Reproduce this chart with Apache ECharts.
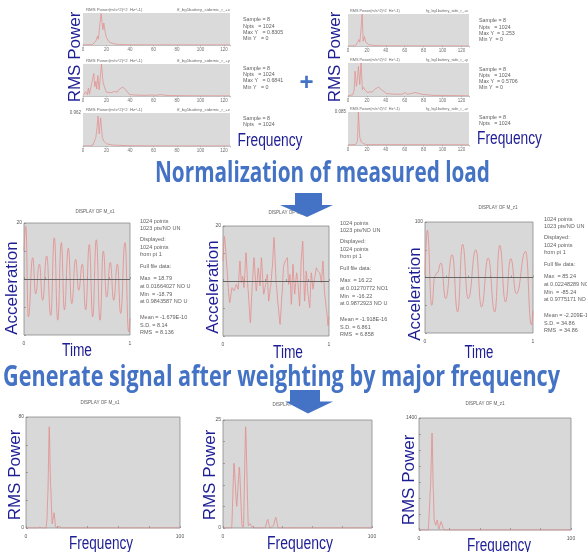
<!DOCTYPE html>
<html><head><meta charset="utf-8">
<script src="https://cdn.jsdelivr.net/npm/echarts@6/dist/echarts.min.js"></script>
<style>html,body{margin:0;padding:0;background:#fff}#c{width:587px;height:552px}</style>
</head><body><div id="c"></div>
<script>
// ---------- DATA ----------
// Top-left RMS power spectra [Hz, value]
const tlX = [[0,0.005],[8,0.01],[10.9,0.1],[12.3,0.23],[13.1,0.15],[14.3,0.53],[15.4,0.81],[16,0.8305],[16.9,0.4],[17.7,0.57],[18.9,0.32],[20,0.19],[21.7,0.1],[23.7,0.06],[26.6,0.03],[31,0.012],[40,0.006],[60,0.004],[125,0.002]];
const tlY = [[0,0.01],[1,0.05],[2.3,0.09],[3.7,0.03],[4.6,0.17],[5.5,0.04],[7,0.08],[9.2,0.48],[10,0.2],[10.9,0.31],[11.6,0.15],[12.6,0.44],[13.7,0.13],[15.7,0.6841],[17,0.3],[18.5,0.17],[20,0.08],[21.7,0.1],[24,0.07],[27,0.1],[29,0.08],[31,0.15],[34,0.19],[36,0.14],[38,0.08],[39.5,0.03],[45,0.02],[52,0.015],[58,0.02],[62,0.015],[66,0.03],[70,0.015],[75,0.01],[90,0.005],[125,0.003]];
const tlZ = [[0,0.003],[6,0.005],[8.5,0.03],[9.4,0.06],[10.9,0.25],[11.8,0.5],[12.8,0.87],[13.7,0.35],[15,0.82],[16.4,0.25],[17.5,0.15],[18.7,0.11],[20,0.06],[22,0.05],[25,0.03],[30,0.02],[40,0.008],[60,0.004],[125,0.002]];
// Top-right RMS power spectra
const trX = [[0,0.003],[8,0.01],[9.7,0.12],[11.4,0.25],[12.5,0.15],[13.9,0.69],[15,1.253],[16,0.19],[17.4,0.37],[18.8,0.15],[20,0.08],[22,0.05],[27,0.02],[35,0.01],[60,0.005],[128,0.002]];
const trY = [[0,0.005],[5,0.02],[6.5,0.1],[7.5,0.43],[8.9,0.17],[10,0.3],[11,0.51],[12.4,0.2],[13.8,0.5706],[15.2,0.11],[16.5,0.15],[17.7,0.11],[20.5,0.06],[23,0.07],[25.7,0.07],[29.2,0.13],[32.7,0.15],[34,0.12],[36,0.1],[41,0.04],[50,0.03],[57,0.03],[60.5,0.06],[63,0.03],[66,0.04],[71,0.06],[78,0.03],[90,0.01],[128,0.004]];
const trZ = [[0,0.0005],[8,0.001],[10,0.01],[11,0.085],[12.4,0.02],[14,0.008],[16.7,0.003],[20,0.001],[128,0.0005]];
// Normalized acceleration time histories [t, value]
const accX = [[0,10],[0.017,18.79],[0.041,-13.5],[0.082,7.6],[0.110,-5.3],[0.145,5.3],[0.176,-7.6],[0.214,8.2],[0.252,-13],[0.286,14.7],[0.318,-14.7],[0.352,13],[0.381,-11],[0.418,11],[0.450,-8.8],[0.487,7],[0.516,-4],[0.550,5.3],[0.582,-11],[0.616,12.3],[0.648,-13.5],[0.682,14],[0.717,-14.7],[0.748,10],[0.780,-6.5],[0.814,5.9],[0.846,-7.6],[0.881,5.3],[0.912,-12.3],[0.953,13],[0.987,-18.79],[1,-14]];
const accY = [[0,7.3],[0.013,16.22],[0.063,-7.9],[0.085,-2.4],[0.104,-3.6],[0.126,-1.2],[0.142,-3.0],[0.160,7.3],[0.173,-0.6],[0.186,1.8],[0.198,-2.4],[0.217,10.3],[0.236,-3.0],[0.258,-15.2],[0.277,-1.2],[0.292,8.5],[0.314,-3.6],[0.333,4.8],[0.349,-1.8],[0.362,8.5],[0.384,-4.8],[0.403,-1.2],[0.418,2.4],[0.431,-7.3],[0.450,-1.8],[0.465,4.8],[0.481,15.8],[0.503,-1.2],[0.519,-8.5],[0.538,-15.8],[0.557,-4.8],[0.572,5.5],[0.588,7.3],[0.607,8.5],[0.619,-1.2],[0.632,2.4],[0.645,-8.5],[0.660,6.1],[0.676,-4.8],[0.695,3.0],[0.708,-1.2],[0.723,-9.1],[0.739,8.5],[0.752,14.5],[0.770,-7.3],[0.786,3.6],[0.802,-4.8],[0.818,-9.7],[0.833,3.0],[0.849,-3.0],[0.865,1.2],[0.881,4.8],[0.896,3.6],[0.912,3.0],[0.928,-0.6],[0.943,7.3],[0.959,-4.8],[0.978,-10.9],[0.991,-16.22],[1,-13]];
const accZ = [[0,5],[0.022,85.24],[0.062,-50],[0.092,3],[0.114,8.8],[0.148,26],[0.191,-38],[0.252,41],[0.302,-62],[0.348,60],[0.400,-38],[0.471,50],[0.523,-53],[0.585,35],[0.646,-62],[0.692,58],[0.745,-44],[0.794,34],[0.846,-29],[0.932,47],[0.985,-85.24],[1,-60]];
// Spectra of signals generated after weighting [Hz, value]
const wX = [[0,0],[8,0],[9,0.8],[10,0],[13,0],[13.6,6],[14.2,25],[15.1,73],[16,30],[17,3],[18.2,11],[19.2,1],[20,0],[21,0.8],[22,1],[23,0],[100,0]];
const wY = [[0,0],[5.8,0],[7.4,15],[9.2,5],[11,14.1],[12.8,0.4],[13.7,0.2],[15.2,23.4],[17,0.5],[18,1],[19.5,0.3],[21,0],[28.2,0],[30,2],[31.5,0],[33.8,0.5],[35.4,2.5],[37.1,0],[100,0]];
const wZ = [[0,0],[6.1,0],[7.5,500],[8.6,1212],[9.4,500],[10,125],[11,60],[12,125],[13,10],[14.5,105],[16,20],[17,0],[100,0]];
// Text
const titleText = 'Normalization of measured load';
const subtitleText = 'Generate signal after weighting by major frequency';
const specHeadL = 'RMS Power(m/s^2)^2  Hz^-1)';
const specHeadTL = ['ff_bg1battery_sidemic_r_+x','ff_bg1battery_sidemic_r_+y','ff_bg1battery_sidemic_r_+z'];
const specHeadTR = ['fg_bg1battery_side_r_+x','fg_bg1battery_side_r_+y','fg_bg1battery_side_r_+z'];
const infoTL = [['Sample = 8','Npts   = 1024','Max Y   = 0.8305','Min Y   = 0'],['Sample = 8','Npts   = 1024','Max Y   = 0.6841','Min Y   = 0'],['Sample = 8','Npts   = 1024']];
const infoTR = [['Sample = 8','Npts   = 1024','Max Y  = 1.253','Min Y  = 0'],['Sample = 8','Npts   = 1024','Max Y  = 0.5706','Min Y  = 0'],['Sample = 8','Npts   = 1024']];
const infoMX = ['1024 points','1023 pts/NO UN','Displayed:','1024 points','from pt 1','Full file data:','Max  = 18.79','at 0.01664027 NO U','Min  = -18.79','at 0.9843587 NO U','Mean = -1.679E-10','S.D. = 8.14','RMS  = 8.136'];
const infoMY = ['1024 points','1023 pts/NO UN','Displayed:','1024 points','from pt 1','Full file data:','Max  = 16.22','at 0.01270772 NO1','Min  = -16.22','at 0.9872923 NO U','Mean = -1.918E-16','S.D. = 6.861','RMS  = 6.858'];
const infoMZ = ['1024 points','1023 pts/NO UN','Displayed:','1024 points','from pt 1','Full file data:','Max  = 85.24','at 0.02248289 NO U','Min  = -85.24','at 0.9775171 NO U','Mean = -2.209E-15','S.D. = 34.86','RMS  = 34.86'];
const dispTitles = ['DISPLAY OF M_x1','DISPLAY OF M_y1','DISPLAY OF M_z1'];

// ---------- LAYOUT ----------
const LF = '"Liberation Sans", Arial, sans-serif';
const BLUE = '#4472c4', NAVY = '#1d1d94', RED = '#e48a8a';
const plots = [
 {g:[83,13,147,32], data:tlX, xmax:125, ymax:0.8305, kind:'top'},
 {g:[83,64,147,32], data:tlY, xmax:125, ymax:0.6841, kind:'top'},
 {g:[83,113,147,33], data:tlZ, xmax:125, ymax:0.962, kind:'top', ylab:true},
 {g:[348,14,121,32], data:trX, xmax:128, ymax:1.253, kind:'top'},
 {g:[348,63,121,33], data:trY, xmax:128, ymax:0.5706, kind:'top'},
 {g:[348,112,121,33], data:trZ, xmax:128, ymax:0.085, kind:'top', ylab:true},
 {g:[24,223,106,112], data:accX, ymin:-20, ymax:20, yint:10, kind:'time', smooth:0.5},
 {g:[223,226,106,110], data:accY, ymin:-20, ymax:20, yint:10, kind:'time', smooth:0.15},
 {g:[425,222,108,111], data:accZ, ymin:-100, ymax:100, yint:50, kind:'time', smooth:0.5},
 {g:[26,417,154,111], data:wX, ymin:0, ymax:80, yint:20, kind:'spec', zero:true},
 {g:[223,420,149,108], data:wY, ymin:0, ymax:25, yint:5, kind:'spec', zero:true},
 {g:[419,418,152,112], data:wZ, ymin:0, ymax:1400, yint:200, kind:'spec'},
];

const grid = [], xAxis = [], yAxis = [], series = [];
plots.forEach((p, i) => {
  const isTop = p.kind === 'top';
  grid.push({left:p.g[0], top:p.g[1], width:p.g[2], height:p.g[3], show:true,
    backgroundColor: isTop ? '#dadada' : '#d8d8d8',
    borderColor: isTop ? '#dadada' : '#8c8c8c', borderWidth: isTop ? 0 : 0.8,
    containLabel:false, outerBoundsMode:'none'});
  if (isTop) {
    xAxis.push({gridIndex:i, type:'value', min:0, max:p.xmax, interval:20,
      axisLine:{show:true, lineStyle:{color:'#9a9a9a', width:0.6}},
      axisTick:{show:true, length:1.5, lineStyle:{color:'#9a9a9a', width:0.5}},
      axisLabel:{fontSize:4.5, color:'#707070', margin:2.5, fontFamily:'Liberation Sans',
        formatter:v => (v % 20 === 0 ? String(v) : '')},
      splitLine:{show:false}});
    yAxis.push({gridIndex:i, type:'value', min:0, max:p.ymax, interval:p.ymax,
      axisLine:{show:false}, axisTick:{show:false}, splitLine:{show:false},
      axisLabel:{show:!!p.ylab, fontSize:4.5, color:'#606060', margin:2, fontFamily:'Liberation Sans',
        formatter:v => (v === p.ymax ? String(p.ymax) : '')}});
  } else {
    const isTime = p.kind === 'time';
    const xmax = isTime ? 1 : 100;
    xAxis.push({gridIndex:i, type:'value', min:0, max:xmax, interval: isTime ? 0.2 : 20,
      axisLine:{show:false},
      axisTick:{show:true, inside:true, length:2, lineStyle:{color:'#777', width:0.6}},
      axisLabel:{fontSize:5, color:'#555', margin:6, fontFamily:'Liberation Sans',
        formatter:v => (v === 0 ? '0' : (v === xmax ? String(xmax) : ''))},
      splitLine:{show:false}});
    yAxis.push({gridIndex:i, type:'value', min:p.ymin, max:p.ymax, interval:p.yint,
      axisLine:{show:false},
      axisTick:{show:true, inside:true, length:2, lineStyle:{color:'#777', width:0.6}},
      axisLabel:{fontSize:5, color:'#555', margin:2, fontFamily:'Liberation Sans',
        formatter:v => (v === p.ymax ? String(p.ymax) : (p.zero && v === 0 ? '0' : ''))},
      splitLine:{show:false}});
  }
  const s = {type:'line', xAxisIndex:i, yAxisIndex:i, data:p.data, symbol:'none',
    smooth: p.smooth || (p.kind === 'spec' ? 0.15 : false), smoothMonotone:'x', silent:true,
    lineStyle:{color:RED, width: isTop ? 0.7 : 0.8}};
  if (p.kind === 'time') {
    s.markLine = {silent:true, symbol:'none', label:{show:false},
      lineStyle:{color:'#5a5a5a', width:0.9, type:'solid'}, data:[{yAxis:0}]};
  }
  series.push(s);
});

// ---------- TEXT / SHAPES ----------
const mctx = document.createElement('canvas').getContext('2d');
function fitScale(s, font, w){ mctx.font = font; return w / mctx.measureText(s).width; }
const graphic = [];
function txt(s, x, y, o) {
  o = o || {};
  graphic.push({type:'text', x:x, y:y, rotation:o.rot || 0, scaleX:o.sx || 1, z:100, silent:true,
    style:{text:s, fill:o.color || '#606060', font:o.font || ('5.5px ' + LF),
      align:o.align || 'left', textAlign:o.align || 'left',
      verticalAlign:'middle', textVerticalAlign:'middle'}});
}
function bigH(s, cx, cy, w, font, color) {
  txt(s, cx, cy, {font:font, align:'center', color:color, sx:fitScale(s, font, w)});
}
function bigV(s, cx, cy) {
  txt(s, cx, cy, {font:'17px ' + LF, align:'center', color:NAVY, rot:Math.PI/2});
}

// headers of top spectra
[13,64,113].forEach((y, k) => {
  txt(specHeadL, 86, y - 3.5, {font:'4.3px ' + LF, color:'#6a6a6a'});
  txt(specHeadTL[k], 230, y - 3.5, {font:'4.3px ' + LF, color:'#6a6a6a', align:'right'});
});
[14,63,112].forEach((y, k) => {
  txt(specHeadL, 350, y - 3.5, {font:'3.8px ' + LF, color:'#6a6a6a'});
  txt(specHeadTR[k], 468, y - 3.5, {font:'3.8px ' + LF, color:'#6a6a6a', align:'right'});
});
// info blocks of top spectra
[20,68.5,118.5].forEach((y0, k) => infoTL[k].forEach((s, j) => txt(s, 243, y0 + j*6.2, {font:'5.3px ' + LF})));
[21,69.3,117.5].forEach((y0, k) => infoTR[k].forEach((s, j) => txt(s, 479, y0 + j*6.2, {font:'5.3px ' + LF})));

// middle info blocks
const offs = [0,7.5,18.5,26,33.5,45.5,57.5,65,73,80.5,96,104,111.5];
[[infoMX,140,221],[infoMY,340,223],[infoMZ,544,219]].forEach(b => b[0].forEach((s, j) => txt(s, b[1], b[2] + offs[j], {font:'5.5px ' + LF})));
// display titles
txt(dispTitles[0], 95, 212, {font:'4.6px ' + LF, align:'center'});
txt(dispTitles[1], 288, 213, {font:'4.6px ' + LF, align:'center'});
txt(dispTitles[2], 498, 208, {font:'4.6px ' + LF, align:'center'});
txt(dispTitles[0], 100, 403, {font:'4.6px ' + LF, align:'center'});
txt(dispTitles[1], 292, 405, {font:'4.6px ' + LF, align:'center'});
txt(dispTitles[2], 485, 404, {font:'4.6px ' + LF, align:'center'});

// big axis captions
bigV('RMS Power', 75, 57);
bigV('RMS Power', 335.5, 57);
bigH('Frequency', 270, 141, 65, '18px ' + LF, NAVY);
bigH('Frequency', 509.5, 139, 65, '18px ' + LF, NAVY);
bigV('Acceleration', 12, 288);
bigV('Acceleration', 213, 287);
bigV('Acceleration', 415, 294);
bigH('Time', 77, 351, 30, '18px ' + LF, NAVY);
bigH('Time', 288, 353, 30, '18px ' + LF, NAVY);
bigH('Time', 479, 353, 29, '18px ' + LF, NAVY);
bigV('RMS Power', 15, 475);
bigV('RMS Power', 210, 475);
bigV('RMS Power', 409, 480);
bigH('Frequency', 101, 544, 64, '18px ' + LF, NAVY);
bigH('Frequency', 300, 544, 66, '18px ' + LF, NAVY);
bigH('Frequency', 499, 546, 64, '18px ' + LF, NAVY);

// headings
bigH(titleText, 322.5, 174, 335, 'bold 28px "Open Sans"', BLUE);
bigH(subtitleText, 281.5, 378, 557, 'bold 28px "Open Sans"', BLUE);
txt('+', 306.5, 83, {font:'bold 24px ' + LF, align:'center', color:BLUE});

// arrows
graphic.push({type:'polygon', z:110, silent:true, shape:{points:[[295,193],[322,193],[322,205],[333,205],[307,217],[280,205],[295,205]]}, style:{fill:BLUE}});
graphic.push({type:'polygon', z:110, silent:true, shape:{points:[[290,390],[320,390],[320,401.5],[333,401.5],[308,413.5],[285,401.5],[290,401.5]]}, style:{fill:BLUE}});

const chart = echarts.init(document.getElementById('c'), null, {renderer:'canvas'});
chart.setOption({animation:false, backgroundColor:'#fff', grid, xAxis, yAxis, series, graphic});
</script></body></html>
